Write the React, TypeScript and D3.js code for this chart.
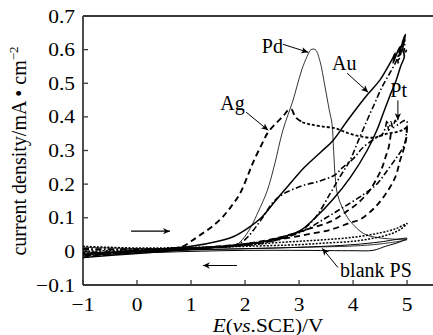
import React from "react";
import * as d3 from "d3";

type P = [number, number];

const xTicks = [-1, 0, 1, 2, 3, 4, 5];
const yTicks = [-0.1, 0, 0.1, 0.2, 0.3, 0.4, 0.5, 0.6, 0.7];
const yTickLabels = ["−0.1", "0", "0.1", "0.2", "0.3", "0.4", "0.5", "0.6", "0.7"];

// Pd, thin solid loop
const pdScan: P[] = [
  [-1, 0.012], [-0.5, 0.01], [0, 0.008], [0.5, 0.008], [1, 0.01], [1.5, 0.012], [1.8, 0.016],
  [1.95, 0.035], [2.1, 0.07], [2.25, 0.12], [2.41, 0.18], [2.55, 0.26], [2.7, 0.36], [2.89, 0.45],
  [2.96, 0.49], [3.05, 0.54], [3.15, 0.58], [3.22, 0.6], [3.3, 0.6], [3.38, 0.57], [3.48, 0.49],
  [3.56, 0.42], [3.61, 0.38], [3.64, 0.3], [3.67, 0.22], [3.71, 0.17], [3.8, 0.13], [3.9, 0.1],
  [4.0, 0.08], [4.13, 0.06], [4.26, 0.048], [4.5, 0.04], [4.8, 0.036], [5.0, 0.035],
  [4.5, 0.022], [4.0, 0.016], [3.0, 0.012], [2.0, 0.008], [1.0, 0.004], [0, -0.002], [-1, -0.006],
];

// Au, solid loop
const auScan: P[] = [
  [-1, -0.01], [-0.5, -0.003], [0, 0.003], [0.5, 0.008], [1, 0.015], [1.5, 0.03], [1.8, 0.045],
  [2.06, 0.07], [2.3, 0.1], [2.56, 0.15], [2.8, 0.195], [3.1, 0.25], [3.4, 0.295], [3.63, 0.33],
  [3.9, 0.39], [4.26, 0.465], [4.5, 0.51], [4.65, 0.55], [4.72, 0.57], [4.78, 0.59], [4.74, 0.56],
  [4.84, 0.6], [4.88, 0.61], [4.85, 0.58], [4.93, 0.63], [4.97, 0.645],
  [4.92, 0.6], [4.95, 0.58], [4.88, 0.55], [4.8, 0.51], [4.7, 0.47], [4.58, 0.42], [4.44, 0.36],
  [4.26, 0.3], [3.95, 0.22], [3.63, 0.155], [3.3, 0.1], [3.0, 0.06], [2.5, 0.035], [2.0, 0.02],
  [1.5, 0.012], [1.0, 0.006], [0, -0.006], [-1, -0.018],
];

// Pt, dash-dot loop
const ptScan: P[] = [
  [-1, 0.005], [0, 0.006], [1, 0.01], [1.5, 0.012], [1.8, 0.018], [2.0, 0.035], [2.28, 0.09],
  [2.52, 0.146], [2.7, 0.17], [3.06, 0.195], [3.4, 0.21], [3.67, 0.228], [3.81, 0.25], [4.0, 0.275],
  [4.19, 0.31], [4.4, 0.335], [4.55, 0.35], [4.6, 0.37], [4.63, 0.39], [4.66, 0.36], [4.7, 0.385],
  [4.74, 0.365], [4.78, 0.39], [4.83, 0.375], [4.9, 0.385], [4.97, 0.39], [5.0, 0.385],
  [4.99, 0.36], [4.97, 0.33], [4.93, 0.31], [4.81, 0.28], [4.63, 0.24], [4.44, 0.2], [4.2, 0.17],
  [3.81, 0.13], [3.5, 0.1], [3.07, 0.06], [2.6, 0.035], [2.0, 0.02], [1.5, 0.012], [1.0, 0.008],
  [0, 0.002], [-1, -0.004],
];

// second dash-dot scan, steep rise to the top right
const steepScan: P[] = [
  [-1, 0.008], [0, 0.006], [1, 0.01], [2, 0.018], [2.5, 0.03], [2.8, 0.045], [3.07, 0.065],
  [3.3, 0.1], [3.57, 0.17], [3.75, 0.22], [3.94, 0.27], [4.1, 0.33], [4.26, 0.39], [4.4, 0.44],
  [4.54, 0.49], [4.68, 0.53], [4.81, 0.57], [4.86, 0.6], [4.83, 0.56], [4.92, 0.61], [4.96, 0.63],
  [4.94, 0.58], [4.99, 0.6],
];

// Ag, dashed rise then short-dash plateau
const agRise: P[] = [
  [-1, -0.018], [-0.5, -0.008], [0, 0.0], [0.5, 0.006], [0.85, 0.015], [1.0, 0.03], [1.2, 0.052],
  [1.4, 0.075], [1.6, 0.105], [1.75, 0.135], [1.9, 0.17], [2.05, 0.225], [2.15, 0.265],
  [2.3, 0.315], [2.43, 0.355], [2.6, 0.385], [2.72, 0.405], [2.8, 0.42], [2.86, 0.422],
  [2.93, 0.4], [3.06, 0.384],
];
const agPlateau: P[] = [
  [3.06, 0.384], [3.2, 0.378], [3.4, 0.372], [3.67, 0.366], [3.9, 0.352], [4.13, 0.342],
  [4.37, 0.338], [4.5, 0.343], [4.63, 0.35], [4.8, 0.355], [4.93, 0.362], [5.0, 0.37],
];
const agReturnOuter: P[] = [
  [5.0, 0.37], [4.98, 0.33], [4.93, 0.3], [4.87, 0.27], [4.78, 0.22], [4.6, 0.17], [4.4, 0.13],
  [4.13, 0.095], [3.94, 0.085], [3.6, 0.065], [3.2, 0.052], [2.8, 0.04], [2.4, 0.03], [2.0, 0.022],
  [1.5, 0.015], [1.0, 0.008], [0, -0.004], [-1, -0.012],
];
const agReturnInner: P[] = [
  [4.7, 0.35], [4.66, 0.31], [4.6, 0.28], [4.54, 0.25], [4.45, 0.22], [4.3, 0.18], [4.1, 0.145],
  [3.89, 0.12], [3.6, 0.09], [3.2, 0.068], [2.8, 0.048], [2.4, 0.033], [2.0, 0.022], [1.5, 0.014],
  [1.0, 0.008], [0, 0.0], [-1, -0.008],
];

// dotted scan near the baseline
const dottedScan: P[] = [
  [-1, 0.015], [0, 0.01], [1, 0.012], [2, 0.018], [2.5, 0.025], [3, 0.03], [3.5, 0.035],
  [4, 0.042], [4.5, 0.055], [4.8, 0.068], [5, 0.083],
  [4.9, 0.068], [4.7, 0.052], [4.4, 0.04], [4, 0.03], [3.5, 0.025], [3, 0.02], [2, 0.015],
  [1, 0.01], [0, 0.005], [-1, 0.0],
];

// blank PS, thin solid loop
const blankScan: P[] = [
  [-1, -0.005], [0, 0.0], [1, 0.005], [2, 0.008], [3, 0.012], [4, 0.02], [4.5, 0.028],
  [5, 0.039], [4.9, 0.03], [4.6, 0.015], [4.37, 0.003], [4, 0.002], [3, 0.003], [2, 0.003],
  [1, 0.0], [0, -0.005], [-1, -0.012],
];

const W = 433;
const H = 335;
const x = d3.scaleLinear().domain([-1, 5.48]).range([83, 433]);
const y = d3.scaleLinear().domain([-0.1, 0.7]).range([285, 16]);
const line = d3.line<P>().x(d => x(d[0])).y(d => y(d[1])).curve(d3.curveCatmullRom.alpha(0.5));

const curves = [
  { data: pdScan, w: 0.8, dash: "" },
  { data: blankScan, w: 1.0, dash: "" },
  { data: dottedScan, w: 1.5, dash: "2 1.5" },
  { data: auScan, w: 1.5, dash: "" },
  { data: ptScan, w: 1.6, dash: "6 2.5 1.5 2.5" },
  { data: steepScan, w: 1.6, dash: "6 2.5 1.5 2.5" },
  { data: agRise, w: 1.9, dash: "6 4" },
  { data: agPlateau, w: 1.8, dash: "3 2" },
  { data: agReturnOuter, w: 1.8, dash: "6 4" },
  { data: agReturnInner, w: 1.8, dash: "6 4" },
];

// labels: text, position of text, arrow from -> to (data units)
const labels = [
  { text: "Pd", at: [2.31, 0.59], from: [2.7, 0.616], to: [3.17, 0.592] },
  { text: "Au", at: [3.61, 0.539], from: [3.89, 0.53], to: [4.28, 0.473] },
  { text: "Pt", at: [4.69, 0.458], from: [4.83, 0.449], to: [4.83, 0.39] },
  { text: "Ag", at: [1.54, 0.42], from: [2.02, 0.414], to: [2.43, 0.36] },
  { text: "blank PS", at: [3.76, -0.077], from: [3.72, -0.048], to: [3.43, 0.009] },
];
const scanArrows = [
  { from: [-0.11, 0.06], to: [0.61, 0.06] },
  { from: [1.85, -0.042], to: [1.22, -0.042] },
];

const font = "Liberation Serif, Times New Roman, Times, serif";

export default function App() {
  const axisColor = "#3a3a3a";
  return (
    <svg width={W} height={H} style={{ position: "absolute", left: 0, top: 0, background: "#fff", fontFamily: font }}>
      <defs>
        <marker id="head" viewBox="0 0 10 10" refX="10" refY="5" markerWidth="9" markerHeight="7"
          markerUnits="userSpaceOnUse" orient="auto">
          <path d="M0,0.5L10,5L0,9.5L2.5,5z" fill="#000" />
        </marker>
        <marker id="headBig" viewBox="0 0 10 10" refX="10" refY="5" markerWidth="13" markerHeight="7"
          markerUnits="userSpaceOnUse" orient="auto">
          <path d="M0,0.5L10,5L0,9.5L3,5z" fill="#000" />
        </marker>
      </defs>

      {/* frame */}
      <line x1={83} x2={W} y1={y(0.7)} y2={y(0.7)} stroke={axisColor} strokeWidth={1.8} />
      <line x1={83} x2={W} y1={y(-0.1)} y2={y(-0.1)} stroke={axisColor} strokeWidth={1.8} />
      <line x1={83} x2={83} y1={y(0.7)} y2={y(-0.1)} stroke={axisColor} strokeWidth={1.8} />

      {yTicks.map((t, i) => (
        <g key={"y" + i}>
          <line x1={83} x2={88} y1={y(t)} y2={y(t)} stroke={axisColor} strokeWidth={1.3} />
          <text transform={`translate(75,${y(t) + 6.5}) scale(1.1,1)`} textAnchor="end" fontSize={19.5}>
            {yTickLabels[i]}
          </text>
        </g>
      ))}
      {xTicks.map(t => (
        <g key={"x" + t}>
          <line x1={x(t)} x2={x(t)} y1={y(-0.1)} y2={y(-0.1) - 5} stroke={axisColor} strokeWidth={1.3} />
          <text transform={`translate(${x(t)},311) scale(1.1,1)`} textAnchor="middle" fontSize={19.5}>
            {t < 0 ? "−" + Math.abs(t) : t}
          </text>
        </g>
      ))}

      {/* axis titles */}
      <text transform="translate(268,332) scale(1.12,1)" textAnchor="middle" fontSize={19}>
        <tspan fontStyle="italic">E</tspan>(<tspan fontStyle="italic">vs</tspan>.SCE)/V
      </text>
      <text transform="translate(26,151) rotate(-90)" textAnchor="middle" fontSize={20}>
        current density/mA • cm<tspan fontSize={13} dy={-8}>−2</tspan>
      </text>

      {/* curves */}
      {curves.map((c, i) => (
        <path key={i} d={line(c.data) || ""} fill="none" stroke="#000" strokeWidth={c.w}
          strokeDasharray={c.dash || undefined} strokeLinejoin="round" />
      ))}

      {/* labels */}
      {labels.map(l => (
        <g key={l.text}>
          <text x={x(l.at[0])} y={y(l.at[1])} fontSize={20}>{l.text}</text>
          <line x1={x(l.from[0])} y1={y(l.from[1])} x2={x(l.to[0])} y2={y(l.to[1])}
            stroke="#000" strokeWidth={1} markerEnd="url(#head)" />
        </g>
      ))}
      {scanArrows.map((a, i) => (
        <line key={i} x1={x(a.from[0])} y1={y(a.from[1])} x2={x(a.to[0])} y2={y(a.to[1])}
          stroke="#000" strokeWidth={1.2} markerEnd="url(#headBig)" />
      ))}
    </svg>
  );
}
